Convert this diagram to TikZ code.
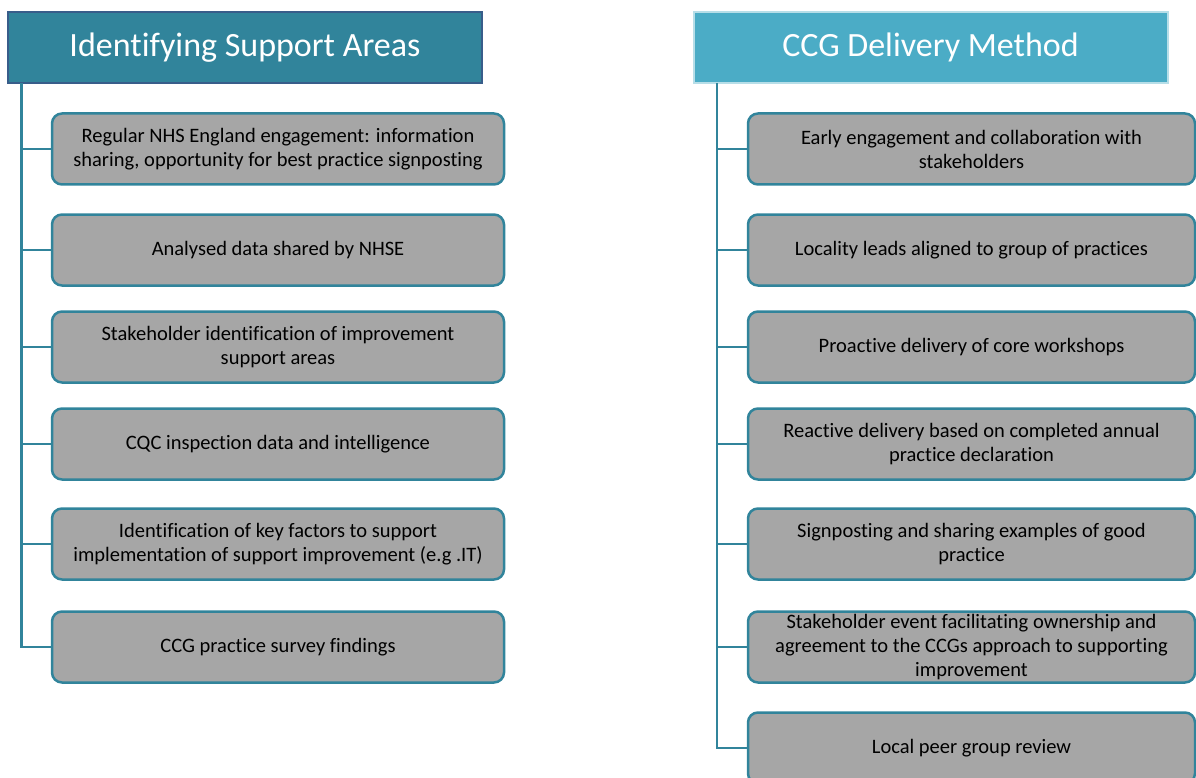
\documentclass[tikz,border=0pt]{standalone}
\usepackage{fontspec}
\setmainfont{Carlito}[Ligatures=NoCommon]
\definecolor{tealA}{HTML}{31849B}
\definecolor{tealB}{HTML}{4BACC6}
\definecolor{hdrborderA}{HTML}{385D8A}
\definecolor{hdrborderB}{HTML}{B7DEE8}
\definecolor{boxgray}{HTML}{A6A6A6}
\definecolor{conn}{HTML}{31849B}
\begin{document}
\begin{tikzpicture}[x=1pt,y=-1pt,
  hdr/.style={draw, line width=2pt, minimum height=71pt, text=white, font=\fontsize{34}{38}\selectfont, inner sep=0pt},
  item/.style={draw=tealA, fill=boxgray, line width=2.5pt, rounded corners=10pt, minimum height=71pt, align=center, font=\fontsize{20.5}{24}\selectfont, text=black, inner sep=0pt},
  conline/.style={draw=conn, line width=2.5pt}]
\useasboundingbox (0,0) rectangle (1196,778);
\clip (0,0) rectangle (1196,778);
% Left column
\node[hdr, draw=hdrborderA, fill=tealA, minimum width=474pt] (lh) at (245,47.5) {Identifying Support Areas};
\coordinate (ltop) at (21.5,83);
\node[item, minimum width=452pt] (l1) at (278,149) {Regular NHS England engagement: information\\sharing, opportunity for best practice signposting};
\node[item, minimum width=452pt] (l2) at (278,250) {Analysed data shared by NHSE};
\node[item, minimum width=452pt] (l3) at (278,347) {Stakeholder identification of improvement\\support areas};
\node[item, minimum width=452pt] (l4) at (278,444) {CQC inspection data and intelligence};
\node[item, minimum width=452pt] (l5) at (278,544) {Identification of key factors to support\\implementation of support improvement (e.g .IT)};
\node[item, minimum width=452pt] (l6) at (278,647) {CCG practice survey findings};
\draw[conline] (ltop) |- (l6.west);
\foreach \n in {l1,l2,l3,l4,l5} {\draw[conline] (ltop |- \n.west) -- (\n.west);}
% Right column
\node[hdr, draw=hdrborderB, fill=tealB, minimum width=474pt] (rh) at (930.5,47.5) {CCG Delivery Method};
\coordinate (rtop) at (717,83);
\node[item, minimum width=447pt] (r1) at (971.5,149) {Early engagement and collaboration with\\stakeholders};
\node[item, minimum width=447pt] (r2) at (971.5,250) {Locality leads aligned to group of practices};
\node[item, minimum width=447pt] (r3) at (971.5,347) {Proactive delivery of core workshops};
\node[item, minimum width=447pt] (r4) at (971.5,444) {Reactive delivery  based on completed annual\\practice declaration};
\node[item, minimum width=447pt] (r5) at (971.5,544) {Signposting and sharing examples of good\\practice};
\node[item, minimum width=447pt] (r6) at (971.5,647) {Stakeholder event facilitating ownership and\\agreement to the CCGs approach to supporting\\improvement};
\node[item, minimum width=447pt] (r7) at (971.5,748) {Local peer group review};
\draw[conline] (rtop) |- (r7.west);
\foreach \n in {r1,r2,r3,r4,r5,r6} {\draw[conline] (rtop |- \n.west) -- (\n.west);}
\end{tikzpicture}
\end{document}
